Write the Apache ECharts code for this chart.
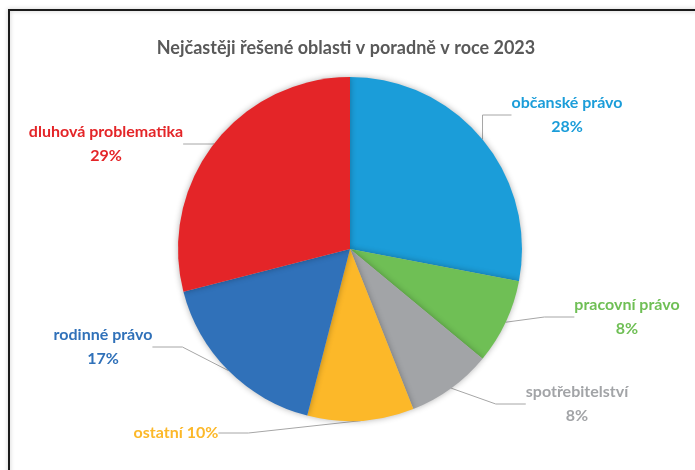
<!DOCTYPE html>
<html><head><meta charset="utf-8">
<script src="https://cdn.jsdelivr.net/npm/echarts@6/dist/echarts.min.js"></script>
<style>html,body{margin:0;padding:0;background:#fff;}#c{width:695px;height:470px;}</style>
</head><body><div id="c"></div>
<script>
const categories = ['občanské právo','pracovní právo','spotřebitelství','ostatní','rodinné právo','dluhová problematika'];
const values = [28, 8, 8, 10, 17, 29];
const colors = ['#1b9dd9','#6fbf55','#a2a4a7','#fcb829','#3071b9','#e42528'];
const labelColors = ['#1b9dd9','#6fbf55','#a2a4a7','#fcb829','#3071b9','#e42528'];
const labelPos = [[567,115],[627,317],[577,404],[176,433],[103,347],[106,144]];

const chart = echarts.init(document.getElementById('c'));
chart.setOption({
  animation: false,
  title: {
    text: 'Nejčastěji řešené oblasti v poradně v roce 2023',
    left: 341, top: 34, textAlign: 'center',
    textStyle: {fontFamily: 'Lato', fontWeight: 'bold', fontSize: 18, color: '#595959'}
  },
  graphic: [{
    type: 'rect', shape: {x: 9, y: 10, width: 720, height: 500},
    style: {fill: 'none', stroke: '#1a1a1a', lineWidth: 2, shadowBlur: 4, shadowColor: 'rgba(0,0,0,0.25)'}
  }],
  series: [{
    type: 'pie',
    center: [350, 249],
    radius: 172,
    startAngle: 90,
    clockwise: true,
    data: categories.map((n, i) => ({
      name: n, value: values[i],
      itemStyle: {color: colors[i]},
      label: {color: labelColors[i]}
    })),
    itemStyle: {borderColor: '#fff', borderWidth: 0, shadowBlur: 6, shadowColor: 'rgba(0,0,0,0.3)'},
    label: {
      show: true,
      formatter: p => p.dataIndex === 3 ? p.name + ' ' + p.value + '%' : p.name + '\n' + p.value + '%',
      fontFamily: 'Lato', fontWeight: 'bold', fontSize: 16, lineHeight: 24, align: 'center'
    },
    labelLine: {show: true, lineStyle: {color: '#a6a6a6', width: 1}, smooth: false},
    labelLayout: p => ({
      x: labelPos[p.dataIndex][0], y: labelPos[p.dataIndex][1],
      align: 'center', verticalAlign: 'middle'
    })
  }]
});
</script></body></html>
